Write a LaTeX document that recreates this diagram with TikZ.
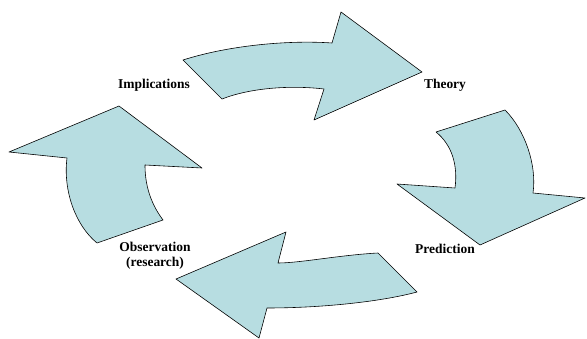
\documentclass[tikz,border=0pt]{standalone}
\usepackage{fontspec}
\setmainfont{Liberation Serif}
\usepackage{tikz}
\definecolor{cyclefill}{RGB}{183,221,225}

\begin{document}
\begin{tikzpicture}[
    x=0.03cm, y=-0.03cm,
    cyclearrow/.style={draw, fill=cyclefill, line width=0.5pt, line join=round},
    lbl/.style={font=\fontsize{11.5}{12.5}\selectfont\bfseries, align=center, inner sep=1pt}
  ]
    \useasboundingbox (0,0) rectangle (587,339);
    % top: implications -> theory
    \draw[cyclearrow] (183,60) .. controls (230,45) and (290,40) .. (332,43)
      -- (341,12) -- (422,72) -- (314,120) -- (324,89)
      .. controls (290,85) and (250,88) .. (222,99) -- cycle;
    % right: theory -> prediction
    \draw[cyclearrow] (436,132) -- (505,110)
      .. controls (525,130) and (537,165) .. (533,193)
      -- (585,198) -- (480,245) -- (397,184) -- (455,188)
      .. controls (458,165) and (452,145) .. (436,132);
    % bottom: prediction -> observation
    \draw[cyclearrow] (378,253) .. controls (340,255) and (300,263) .. (278,263)
      -- (286,232) -- (176,279) -- (259,338) -- (267,308)
      .. controls (320,308) and (380,302) .. (417,292) -- cycle;
    % left: observation -> implications
    \draw[cyclearrow] (97,243) -- (163,220)
      .. controls (148,200) and (145,180) .. (145,165)
      -- (202,168) -- (119,106) -- (9,152) -- (67,158)
      .. controls (63,190) and (75,225) .. (97,243);
    % labels
    \node[lbl] (impl) at (154,85) {Implications};
    \node[lbl] (theory) at (445,85) {Theory};
    \node[lbl] (pred) at (445,249) {Prediction};
    \node[lbl] (obs) at (155,256) {Observation\\(research)};
  \end{tikzpicture}
\end{document}
